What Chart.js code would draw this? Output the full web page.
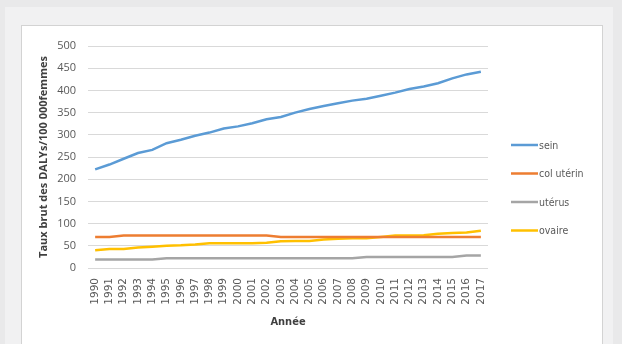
<!DOCTYPE html>
<html lang="fr">
<head>
<meta charset="utf-8">
<title>Taux brut des DALYs par cancer féminin, 1990–2017</title>
<script src="https://cdn.jsdelivr.net/npm/chart.js@4/dist/chart.umd.min.js"></script>
<style>
  html, body { margin: 0; padding: 0; background: #e9e9ea; }
  #wrap { width: 622px; height: 344px; position: relative; }
  canvas { display: block; }
</style>
</head>
<body>
<div id="wrap"><canvas id="chart" width="622" height="344"></canvas></div>
<script>
// Années
const annees = ['1990','1991','1992','1993','1994','1995','1996','1997','1998','1999',
  '2000','2001','2002','2003','2004','2005','2006','2007','2008','2009',
  '2010','2011','2012','2013','2014','2015','2016','2017'];

// Taux brut des DALYs pour 100 000 femmes, par localisation
const sein = [222, 233, 246, 259, 266, 281, 289, 298, 305, 314,
  319, 326, 335, 340, 350, 358, 365, 371, 377, 381,
  388, 395, 403, 409, 416, 427, 436, 442];
const colUterin = [70, 70, 73, 73, 73, 73, 73, 73, 73, 73,
  73, 73, 73, 70, 70, 70, 70, 70, 70, 70,
  70, 70, 70, 70, 70, 70, 70, 70];
const uterus = [19, 19, 19, 19, 19, 22, 22, 22, 22, 22,
  22, 22, 22, 22, 22, 22, 22, 22, 22, 25,
  25, 25, 25, 25, 25, 25, 28, 28];
const ovaire = [40, 43, 43, 46, 48, 50, 51, 53, 56, 56,
  56, 56, 57, 60, 61, 61, 64, 66, 67, 67,
  70, 73, 73, 74, 77, 79, 80, 84];

const seriesNames = ['sein', 'col utérin', 'utérus', 'ovaire'];
const yTicks = [0, 50, 100, 150, 200, 250, 300, 350, 400, 450, 500];

const colors = ['#5b9bd5', '#ed7d31', '#a5a5a5', '#ffc000'];
const values = [sein, colUterin, uterus, ovaire];

const NARROW = "'Liberation Sans Narrow', 'DejaVu Sans Condensed', 'Open Sans', sans-serif";

// Fond gris, bandeau clair et cadre blanc
const framePlugin = {
  id: 'frame',
  beforeDraw(chart) {
    const ctx = chart.ctx;
    ctx.save();
    ctx.fillStyle = '#e9e9ea';
    ctx.fillRect(0, 0, chart.width, chart.height);
    ctx.fillStyle = '#f1f1f2';
    ctx.fillRect(5, 7, 608, chart.height);
    ctx.fillStyle = '#ffffff';
    ctx.fillRect(21, 25, 581, chart.height);
    ctx.strokeStyle = '#d3d3d3';
    ctx.lineWidth = 1;
    ctx.strokeRect(21.5, 25.5, 581, chart.height + 10);
    ctx.restore();
  }
};

// Légende à droite : trait de couleur suivi du nom de la série
const sideLegend = {
  id: 'sideLegend',
  afterDraw(chart) {
    const ctx = chart.ctx;
    const x0 = chart.chartArea.right + 23;
    const y0 = 145;
    const step = 28.5;
    ctx.save();
    ctx.font = '10.5px ' + NARROW;
    ctx.textBaseline = 'middle';
    chart.data.datasets.forEach((ds, i) => {
      const y = y0 + i * step;
      ctx.strokeStyle = ds.borderColor;
      ctx.lineWidth = 2.5;
      ctx.beginPath();
      ctx.moveTo(x0, y);
      ctx.lineTo(x0 + 27, y);
      ctx.stroke();
      ctx.fillStyle = '#595959';
      ctx.fillText(ds.label, x0 + 28, y + 1);
    });
    ctx.restore();
  }
};

new Chart(document.getElementById('chart'), {
  type: 'line',
  data: {
    labels: annees,
    datasets: values.map((v, i) => ({
      label: seriesNames[i],
      data: v,
      borderColor: colors[i],
      backgroundColor: colors[i],
      borderWidth: 2.5,
      pointRadius: 0,
      tension: 0,
      fill: false
    }))
  },
  options: {
    responsive: false,
    animation: false,
    layout: { padding: { left: 30, right: 134, top: 46, bottom: 10 } },
    plugins: {
      legend: { display: false },
      tooltip: { enabled: false }
    },
    scales: {
      x: {
        offset: true,
        afterFit(scale) { scale.height = 66; },
        grid: { display: false, drawTicks: false },
        border: { display: false },
        ticks: {
          autoSkip: false,
          minRotation: 90,
          maxRotation: 90,
          padding: 10,
          color: '#595959',
          font: { family: "'DejaVu Sans', sans-serif", size: 10.5 }
        },
        title: {
          display: true,
          text: 'Année',
          color: '#404040',
          font: { family: NARROW, size: 11, weight: 'bold' },
          padding: { top: 0, bottom: 5 }
        }
      },
      y: {
        min: 0,
        max: 500,
        afterFit(scale) { scale.width = 58; },
        afterBuildTicks(scale) { scale.ticks = yTicks.map(v => ({ value: v })); },
        grid: { color: '#d9d9d9', lineWidth: 1, drawTicks: false },
        border: { display: false },
        ticks: {
          padding: 12,
          color: '#595959',
          font: { family: "'Open Sans', sans-serif", size: 11 }
        },
        title: {
          display: true,
          text: 'Taux brut des DALYs/100 000femmes',
          color: '#404040',
          font: { family: "'Open Sans', sans-serif", size: 11, weight: 'bold' },
          padding: { top: 7, bottom: 0 }
        }
      }
    }
  },
  plugins: [framePlugin, sideLegend]
});
</script>
</body>
</html>
